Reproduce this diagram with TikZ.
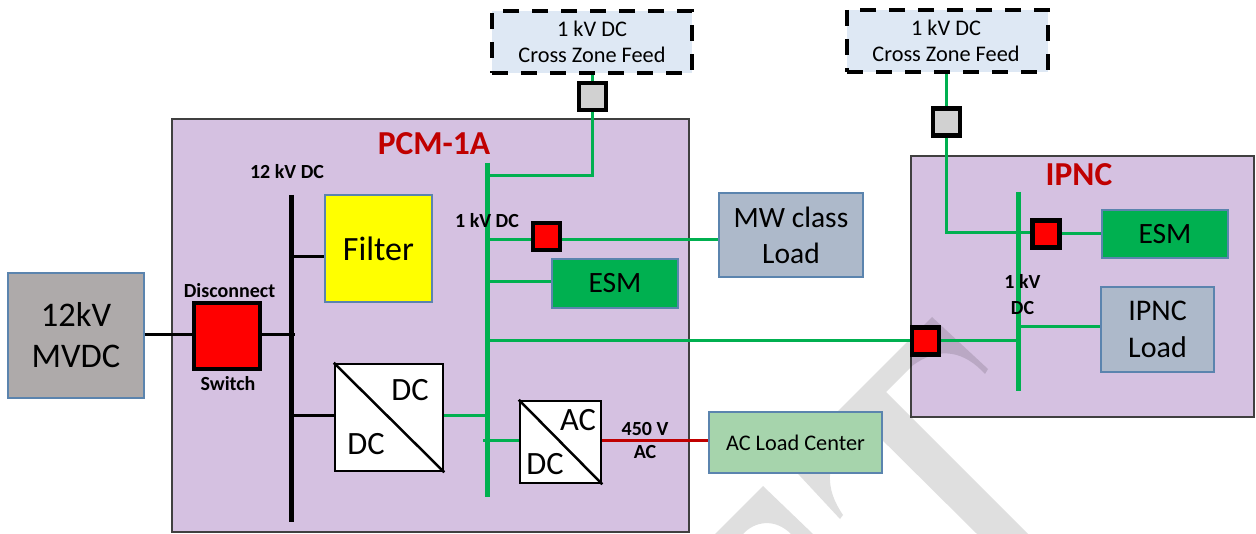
\documentclass[tikz,border=0pt]{standalone}
\usepackage{fontspec}
\setmainfont{Carlito}
\definecolor{zonefill}{HTML}{D5C1E1}
\definecolor{loadfill}{HTML}{ADB9CA}
\definecolor{esmfill}{HTML}{00B050}
\definecolor{feedfill}{HTML}{DEE8F4}
\definecolor{acfill}{HTML}{A6D4AC}
\definecolor{mvdcfill}{HTML}{AEAAAA}
\definecolor{edgeblue}{HTML}{5B84AE}
\definecolor{titlered}{HTML}{C00000}
\definecolor{filterfill}{HTML}{FFFF00}
\tikzset{
  zonebox/.style={draw=black!75, line width=1.2pt, fill=zonefill, inner sep=0pt},
  blockbox/.style={draw=edgeblue, line width=1.2pt, inner sep=0pt, align=center, text=black},
  feedbox/.style={draw=black, line width=4pt, dash pattern=on 16pt off 13pt, fill=feedfill, inner sep=0pt, align=center,
    font=\fontsize{22.3}{26}\selectfont},
  convbox/.style={draw=black, line width=2.5pt, fill=white, inner sep=0pt},
  redswitch/.style={draw=black, line width=4.5pt, fill=red, inner sep=0pt, minimum size=27pt},
  grayswitch/.style={draw=black, line width=4.5pt, fill=black!18, inner sep=0pt, minimum size=27pt},
  greenline/.style={esmfill, line width=3pt},
  greenbus/.style={esmfill, line width=5pt},
  blackline/.style={black, line width=3pt},
  blackbus/.style={black, line width=5pt},
  smalllabel/.style={font=\fontsize{20}{23}\selectfont\bfseries, align=center, inner sep=0pt},
  titlelabel/.style={font=\fontsize{33.5}{38}\selectfont\bfseries, text=titlered, inner sep=0pt},
  convlabel/.style={font=\fontsize{32.5}{36}\selectfont, inner sep=0pt}
}
\begin{document}
\begin{tikzpicture}[x=1pt, y=-1pt]
      \useasboundingbox (0, 0) rectangle (1256, 534);
      \node [zonebox, minimum width=517pt, minimum height=413pt] (pcm) at (430.5, 325.5) {};
      \node [zonebox, minimum width=343pt, minimum height=261pt] (ipnc) at (1082.5, 286.5) {};
      \fill [black, opacity=0.125] (932, 317) -- (787, 462) -- (840, 519) -- (843, 515)
        .. controls (826, 490) and (820, 462) .. (860, 418) -- (977, 534) -- (1028, 534) -- (886, 392) -- (912, 366)
        .. controls (940, 345) and (965, 352) .. (985, 374) -- (988, 369) -- cycle;
      \fill [black, opacity=0.125] (763, 486) -- (715, 534) -- (743, 534)
        .. controls (755, 521) and (775, 518) .. (791, 534) -- (813, 534) -- cycle;

      \node [blockbox, fill=mvdcfill, minimum width=136pt, minimum height=125pt, font=\fontsize{34.5}{41}\selectfont] (mvdc) at (76, 335.5) {12kV\\MVDC};
      \node [blockbox, fill=filterfill, minimum width=107pt, minimum height=107pt, font=\fontsize{34}{40}\selectfont] (filter) at (378.5, 248.5) {Filter};
      \node [blockbox, fill=loadfill, minimum width=144pt, minimum height=84pt, font=\fontsize{29.5}{36}\selectfont] (mwload) at (791, 235) {MW class\\Load};
      \node [blockbox, fill=esmfill, minimum width=126pt, minimum height=49pt, font=\fontsize{29.5}{34}\selectfont] (esma) at (615, 283.5) {ESM};
      \node [blockbox, fill=esmfill, minimum width=126pt, minimum height=48pt, font=\fontsize{29.5}{34}\selectfont] (esmb) at (1165, 234) {ESM};
      \node [blockbox, fill=loadfill, minimum width=113pt, minimum height=85pt, font=\fontsize{30}{37}\selectfont] (ipncload) at (1157.5, 329.5) {IPNC\\Load};
      \node [blockbox, fill=acfill, minimum width=173pt, minimum height=61pt, font=\fontsize{22.3}{26}\selectfont] (acload) at (795.5, 442.5) {AC Load Center};
      \node [feedbox, minimum width=200pt, minimum height=62pt] (feeda) at (592, 42) {1 kV DC\\Cross Zone Feed};
      \node [feedbox, minimum width=201pt, minimum height=62pt] (feedb) at (947.5, 41) {\hspace*{-3pt}1 kV DC\\\hspace*{-3pt}Cross Zone Feed};
      \node [convbox, minimum width=108pt, minimum height=107pt] (dcdc) at (389, 417.5) {};
      \node [convbox, minimum width=81pt, minimum height=82pt] (dcac) at (560.5, 442) {};

      \coordinate (pcmbus) at (291, 195);
      \coordinate (pcmbusend) at (291, 522);
      \coordinate (lowbus) at (487, 163);
      \coordinate (lowbusend) at (487, 497);
      \coordinate (ipncbus) at (1018, 192);
      \coordinate (ipncbusend) at (1018, 391);

      \coordinate (feedtap) at (487, 176);
      \coordinate (mwtap) at (487, 240);
      \coordinate (esmtap) at (487, 282);
      \coordinate (crosstap) at (487, 341);
      \coordinate (dcactap) at (483, 441);
      \coordinate (filtertap) at (291, 257);
      \coordinate (dcdctap) at (291, 416);
      \coordinate (ipncfeedtap) at (947, 233);
      \coordinate (ipncloadtap) at (1018, 327);
      \coordinate (ipncrosstap) at (1018, 341);
      \coordinate (mvdctap) at (295, 335);

      \node [redswitch, minimum size=66pt] (disconnect) at (227, 336) {};
      \node [grayswitch] (graya) at (592.5, 96.5) {};
      \node [grayswitch] (grayb) at (946.5, 122) {};
      \node [redswitch] (redmw) at (546.5, 236.5) {};
      \node [redswitch] (redesm) at (1046, 234) {};
      \node [redswitch] (redcross) at (925.5, 341) {};

      \draw [greenbus] (lowbus) -- (lowbusend);
      \draw [greenbus] (ipncbus) -- (ipncbusend);
      \draw [blackbus] (pcmbus) -- (pcmbusend);
      \draw [blackline] (mvdc.east |- mvdctap) -- (disconnect.west |- mvdctap);
      \draw [blackline] (disconnect.east |- mvdctap) -- (mvdctap);
      \draw [blackline] (filtertap) -- (filtertap -| filter.west);
      \draw [blackline] (dcdctap) -- (dcdctap -| dcdc.west);
      \draw [greenline] (dcdc.east |- dcdctap) -- (dcdctap -| lowbus);
      \draw [greenline] (feeda.south -| graya) -- (graya.north);
      \draw [greenline] (graya.south) |- (feedtap);
      \draw [greenline] (feedb.south -| grayb) -- (grayb.north);
      \draw [greenline] (grayb.south) |- (redesm.west |- ipncfeedtap);
      \draw [greenline] (redesm.east |- esmb) -- (esmb.west);
      \draw [greenline] (mwtap) -- (mwtap -| redmw.west);
      \draw [greenline] (mwtap -| redmw.east) -- (mwtap -| mwload.west);
      \draw [greenline] (esmtap) -- (esmtap -| esma.west);
      \draw [greenline] (crosstap) -- (redcross.west);
      \draw [greenline] (redcross.east) -- (ipncrosstap);
      \draw [greenline] (ipncloadtap) -- (ipncloadtap -| ipncload.west);
      \draw [greenline] (dcactap) -- (dcactap -| dcac.west);
      \draw [titlered, line width=3pt] (dcac.east |- dcactap) -- (dcactap -| acload.west);
      \draw [black, line width=2.5pt] (dcdc.north west) -- (dcdc.south east);
      \draw [black, line width=2.5pt] (dcac.north west) -- (dcac.south east);

      \node [titlelabel] (pcmtitle) at (434, 144) {PCM-1A};
      \node [titlelabel] (ipnctitle) at (1079, 175) {IPNC};
      \node [smalllabel] (lblhigh) at (287, 172) {12 kV DC};
      \node [smalllabel] (lbllow) at (487, 221) {1 kV DC};
      \node [smalllabel] (lblipnc) at (1022.5, 295) {1 kV\\[3pt]DC};
      \node [smalllabel] (lblac) at (645, 441) {450 V\\AC};
      \node [smalllabel] (lbldisc) at (229.5, 291) {Disconnect};
      \node [smalllabel] (lblswitch) at (228, 384) {Switch};
      \node [convlabel] (dcdcout) at (410, 390) {DC};
      \node [convlabel] (dcdcin) at (366, 444) {DC};
      \node [convlabel] (dcacout) at (578, 420) {AC};
      \node [convlabel] (dcacin) at (545, 464) {DC};
    \end{tikzpicture}
\end{document}
